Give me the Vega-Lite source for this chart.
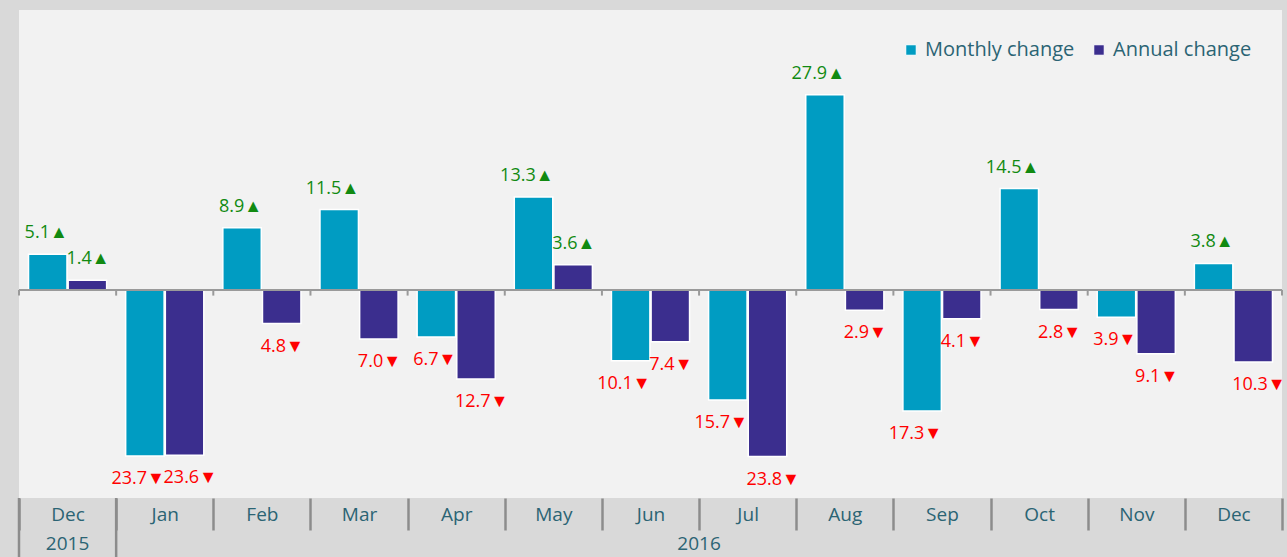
{
  "$schema": "https://vega.github.io/schema/vega-lite/v6.json",
  "width": 1263,
  "height": 488,
  "autosize": {"type": "none"},
  "padding": {"left": 19, "top": 10, "right": 5, "bottom": 59},
  "background": "#d9d9d9",
  "config": {"view": {"fill": "#f2f2f2", "stroke": null}, "font": "Open Sans"},
  "title": {"text": "Monthly and annual change in exports (%)", "fontSize": 24, "fontWeight": "bold", "color": "#2b6474", "baseline": "bottom", "offset": 4, "anchor": "middle"},
  "data": {"values": [
    {"month": "Dec 2015", "series": "Monthly change", "value": 5.1},
    {"month": "Dec 2015", "series": "Annual change", "value": 1.4},
    {"month": "Jan 2016", "series": "Monthly change", "value": -23.7},
    {"month": "Jan 2016", "series": "Annual change", "value": -23.6},
    {"month": "Feb 2016", "series": "Monthly change", "value": 8.9},
    {"month": "Feb 2016", "series": "Annual change", "value": -4.8},
    {"month": "Mar 2016", "series": "Monthly change", "value": 11.5},
    {"month": "Mar 2016", "series": "Annual change", "value": -7.0},
    {"month": "Apr 2016", "series": "Monthly change", "value": -6.7},
    {"month": "Apr 2016", "series": "Annual change", "value": -12.7},
    {"month": "May 2016", "series": "Monthly change", "value": 13.3},
    {"month": "May 2016", "series": "Annual change", "value": 3.6},
    {"month": "Jun 2016", "series": "Monthly change", "value": -10.1},
    {"month": "Jun 2016", "series": "Annual change", "value": -7.4},
    {"month": "Jul 2016", "series": "Monthly change", "value": -15.7},
    {"month": "Jul 2016", "series": "Annual change", "value": -23.8},
    {"month": "Aug 2016", "series": "Monthly change", "value": 27.9},
    {"month": "Aug 2016", "series": "Annual change", "value": -2.9},
    {"month": "Sep 2016", "series": "Monthly change", "value": -17.3},
    {"month": "Sep 2016", "series": "Annual change", "value": -4.1},
    {"month": "Oct 2016", "series": "Monthly change", "value": 14.5},
    {"month": "Oct 2016", "series": "Annual change", "value": -2.8},
    {"month": "Nov 2016", "series": "Monthly change", "value": -3.9},
    {"month": "Nov 2016", "series": "Annual change", "value": -9.1},
    {"month": "Dec 2016", "series": "Monthly change", "value": 3.8},
    {"month": "Dec 2016", "series": "Annual change", "value": -10.3}
  ]},
  "transform": [{"calculate": "format(abs(datum.value), '.1f') + (datum.value >= 0 ? '▲' : '▼')", "as": "label"}],
  "layer": [
    {
      "mark": {"type": "bar", "stroke": "white", "strokeWidth": 1.5},
      "encoding": {
        "x": {
          "field": "month", "type": "nominal",
          "scale": {"domain": ["Dec 2015", "Jan 2016", "Feb 2016", "Mar 2016", "Apr 2016", "May 2016", "Jun 2016", "Jul 2016", "Aug 2016", "Sep 2016", "Oct 2016", "Nov 2016", "Dec 2016"], "paddingInner": 0, "paddingOuter": 0},
          "axis": {"title": null, "labelExpr": "isValid(datum.value) ? split(datum.value, ' ')[0] : ''", "labelAngle": 0, "labelFontSize": 19, "labelColor": "#2b6474", "labelPadding": -25, "tickBand": "extent", "tickSize": 32, "tickWidth": 2.5, "tickColor": "#8c8c8c", "domain": false, "grid": false}
        },
        "xOffset": {"field": "series", "type": "nominal", "sort": ["Monthly change", "Annual change"], "scale": {"paddingInner": 0.03, "paddingOuter": 0.24}},
        "y": {"field": "value", "type": "quantitative", "scale": {"domain": [-29.714, 40], "nice": false, "zero": false}, "axis": null},
        "color": {
          "field": "series", "type": "nominal",
          "scale": {"domain": ["Monthly change", "Annual change"], "range": ["#009cc2", "#3b2e8e"]},
          "legend": {"title": null, "orient": "top-right", "direction": "horizontal", "offset": 30, "labelFontSize": 20, "labelColor": "#2b6474", "symbolType": "square", "symbolSize": 110, "symbolStrokeColor": "white", "symbolStrokeWidth": 1, "symbolOpacity": 1, "columnPadding": 14, "labelOffset": 4}
        }
      }
    },
    {
      "mark": {"type": "rule", "color": "#9a9a9a", "strokeWidth": 2},
      "encoding": {"y": {"datum": 0}}
    },
    {
      "transform": [{"filter": "datum.series == 'Monthly change'"}],
      "mark": {"type": "rule", "color": "#9a9a9a", "strokeWidth": 2},
      "encoding": {
        "x": {"field": "month", "type": "nominal", "bandPosition": 0},
        "y": {"datum": 0},
        "y2": {"datum": -0.8}
      }
    },
    {
      "transform": [{"filter": "datum.series == 'Monthly change' && datum.month == 'Dec 2016'"}],
      "mark": {"type": "rule", "color": "#9a9a9a", "strokeWidth": 2},
      "encoding": {
        "x": {"field": "month", "type": "nominal", "bandPosition": 1},
        "y": {"datum": 0},
        "y2": {"datum": -0.8}
      }
    },
    {
      "transform": [{"filter": "datum.series == 'Monthly change' && (datum.month == 'Dec 2015' || datum.month == 'Jan 2016')"}],
      "mark": {"type": "rule", "color": "#8c8c8c", "strokeWidth": 2.5},
      "encoding": {
        "x": {"field": "month", "type": "nominal", "bandPosition": 0},
        "y": {"datum": -29.714},
        "y2": {"datum": -40}
      }
    },
    {
      "transform": [{"filter": "datum.series == 'Monthly change' && datum.month == 'Dec 2015'"}, {"calculate": "'2015'", "as": "year"}],
      "mark": {"type": "text", "fontSize": 19, "color": "#2b6474", "baseline": "middle"},
      "encoding": {
        "x": {"field": "month", "type": "nominal"},
        "y": {"datum": -36.3},
        "text": {"field": "year"}
      }
    },
    {
      "transform": [{"filter": "datum.series == 'Monthly change' && datum.month == 'Jun 2016'"}, {"calculate": "'2016'", "as": "year"}],
      "mark": {"type": "text", "fontSize": 19, "color": "#2b6474", "baseline": "middle"},
      "encoding": {
        "x": {"field": "month", "type": "nominal", "bandPosition": 1},
        "y": {"datum": -36.3},
        "text": {"field": "year"}
      }
    },
    {
      "transform": [{"filter": "datum.value >= 0 && datum.series == 'Monthly change'"}],
      "mark": {"type": "text", "fontSize": 18, "align": "right", "dx": 20, "baseline": "alphabetic", "dy": -16, "color": "#118a11"},
      "encoding": {
        "x": {"field": "month", "type": "nominal"},
        "xOffset": {"field": "series", "type": "nominal", "sort": ["Monthly change", "Annual change"]},
        "y": {"field": "value", "type": "quantitative"},
        "text": {"field": "label"}
      }
    },
    {
      "transform": [{"filter": "datum.value >= 0 && datum.series == 'Annual change'"}],
      "mark": {"type": "text", "fontSize": 18, "align": "left", "dx": -21, "baseline": "alphabetic", "dy": -16, "color": "#118a11"},
      "encoding": {
        "x": {"field": "month", "type": "nominal"},
        "xOffset": {"field": "series", "type": "nominal", "sort": ["Monthly change", "Annual change"]},
        "y": {"field": "value", "type": "quantitative"},
        "text": {"field": "label"}
      }
    },
    {
      "transform": [{"filter": "datum.value < 0 && datum.series == 'Monthly change'"}],
      "mark": {"type": "text", "fontSize": 18, "align": "right", "dx": 20, "baseline": "top", "dy": 14, "color": "#ff0000"},
      "encoding": {
        "x": {"field": "month", "type": "nominal"},
        "xOffset": {"field": "series", "type": "nominal", "sort": ["Monthly change", "Annual change"]},
        "y": {"field": "value", "type": "quantitative"},
        "text": {"field": "label"}
      }
    },
    {
      "transform": [{"filter": "datum.value < 0 && datum.series == 'Annual change'"}],
      "mark": {"type": "text", "fontSize": 18, "align": "left", "dx": -21, "baseline": "top", "dy": 14, "color": "#ff0000"},
      "encoding": {
        "x": {"field": "month", "type": "nominal"},
        "xOffset": {"field": "series", "type": "nominal", "sort": ["Monthly change", "Annual change"]},
        "y": {"field": "value", "type": "quantitative"},
        "text": {"field": "label"}
      }
    }
  ]
}
